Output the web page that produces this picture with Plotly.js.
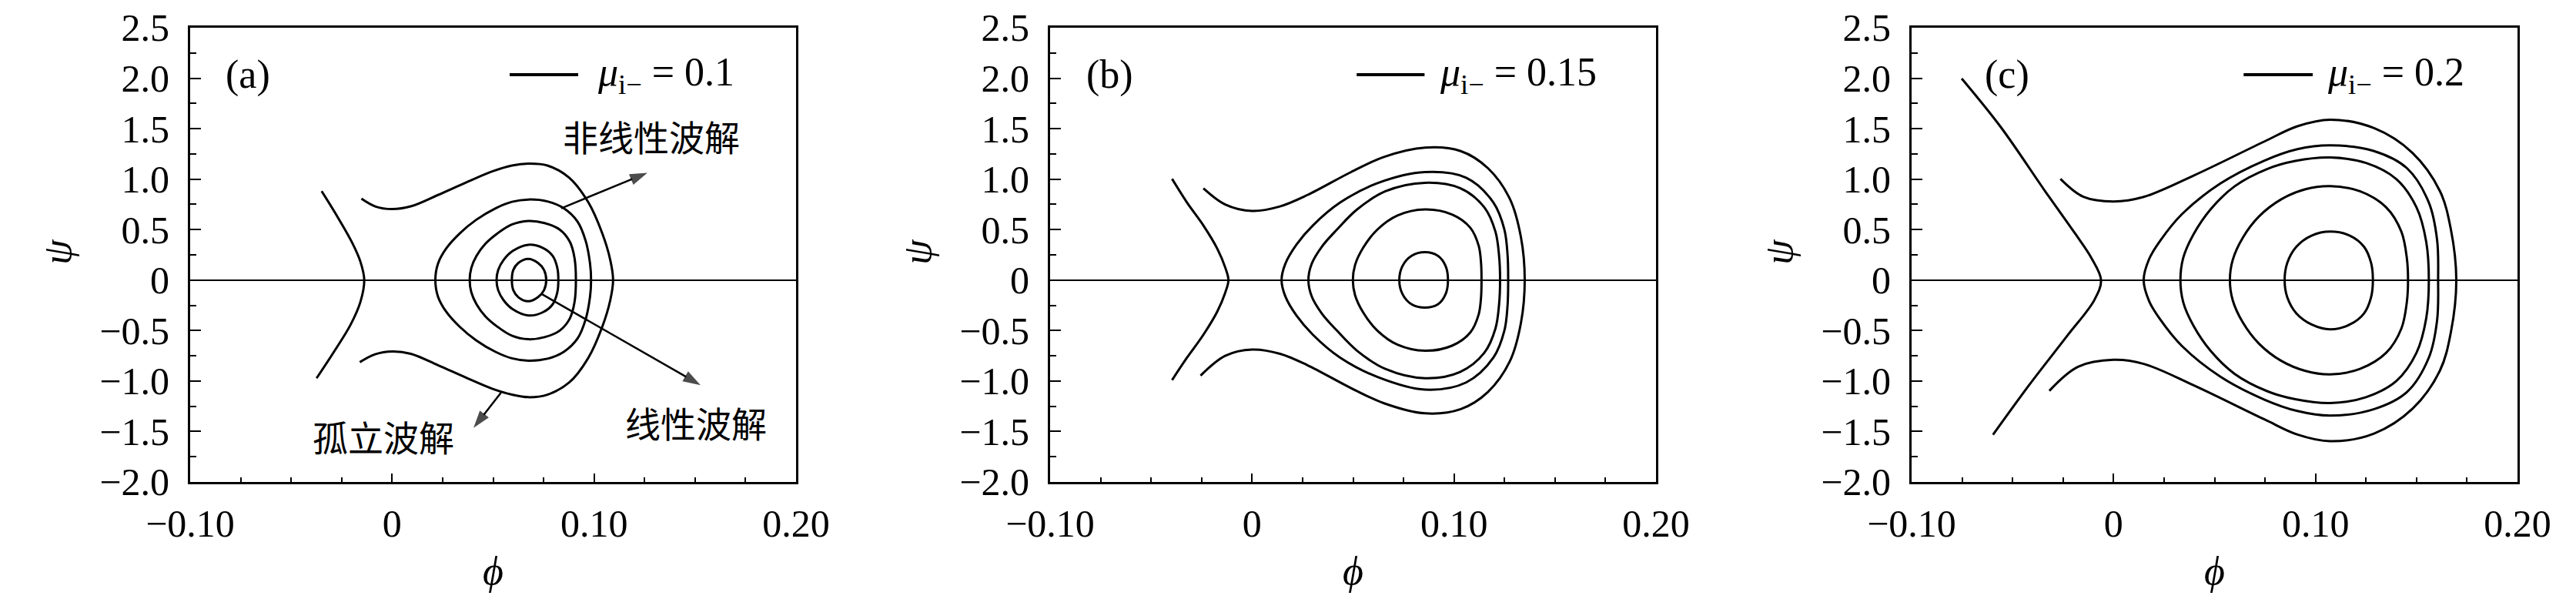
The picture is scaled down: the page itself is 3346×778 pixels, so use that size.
<!DOCTYPE html>
<html>
<head>
<meta charset="utf-8">
<script src="https://cdn.plot.ly/plotly-3.0.1.min.js"></script>
<style>html,body{margin:0;padding:0;background:#fff}#chart{width:3346px;height:778px}</style>
</head>
<body>
<div id="chart"></div>
<script>
// ---------- tick labels ----------
const xTickVals = [-0.1, 0, 0.1, 0.2];
const xTickText = ['\u22120.10', '0', '0.10', '0.20'];
const yTickVals = [2.5, 2.0, 1.5, 1.0, 0.5, 0, -0.5, -1.0, -1.5, -2.0];
const yTickText = ['2.5', '2.0', '1.5', '1.0', '0.5', '0', '\u22120.5', '\u22121.0', '\u22121.5', '\u22122.0'];
const panelLabels = ['(a)', '(b)', '(c)'];
const muValues = ['0.1', '0.15', '0.2'];
const xTitle = '\u03D5';
const yTitle = 'ψ';

// ---------- panel (a), mu = 0.1 ----------
const aLeftX = [-0.0349, -0.0273, -0.0198, -0.0157, -0.0138, -0.0157, -0.0206, -0.0287, -0.0374];
const aLeftY = [0.881, 0.635, 0.371, 0.182, 0, -0.216, -0.443, -0.707, -0.972];
const aOuterX = [-0.0152, -0.0084, 0, 0.0092, 0.0227, 0.0363, 0.0498, 0.0593, 0.0674, 0.0769, 0.0877, 0.0972, 0.1040, 0.1080, 0.1094,
                 0.1080, 0.1040, 0.0972, 0.0877, 0.0769, 0.0674, 0.0593, 0.0498, 0.0363, 0.0227, 0.0092, 0, -0.0084, -0.0160];
const aOuterY = [0.806, 0.73, 0.703, 0.73, 0.843, 0.964, 1.078, 1.135, 1.154, 1.135, 1.014, 0.768, 0.465, 0.2, 0,
                 -0.2, -0.465, -0.768, -1.014, -1.135, -1.16, -1.135, -1.078, -0.964, -0.843, -0.73, -0.707, -0.735, -0.813];
const aC1X = [0.0674, 0.0769, 0.0850, 0.0918, 0.0958, 0.0980, 0.0985, 0.0980, 0.0958, 0.0918, 0.0850, 0.0769, 0.0674, 0.0593, 0.0512, 0.0417, 0.0336, 0.0268, 0.0227, 0.0214, 0.0227, 0.0268, 0.0336, 0.0417, 0.0512, 0.0593, 0.0674];
const aC1Y = [0.798, 0.779, 0.711, 0.579, 0.390, 0.163, 0, -0.163, -0.390, -0.579, -0.711, -0.779, -0.798, -0.775, -0.711, -0.598, -0.465, -0.314, -0.163, 0, 0.163, 0.314, 0.465, 0.598, 0.711, 0.775, 0.798];
const aC2X = [0.0674, 0.0755, 0.0830, 0.0880, 0.0903, 0.0910, 0.0903, 0.0880, 0.0830, 0.0755, 0.0674, 0.0592, 0.0520, 0.0462, 0.0418, 0.0392, 0.0384, 0.0392, 0.0418, 0.0462, 0.0520, 0.0592, 0.0674];
const aC2Y = [0.586, 0.565, 0.50, 0.38, 0.22, 0, -0.22, -0.38, -0.50, -0.565, -0.586, -0.55, -0.46, -0.36, -0.24, -0.12, 0, 0.12, 0.24, 0.36, 0.46, 0.55, 0.586];
const aC3X = [0.0674, 0.0745, 0.0795, 0.0818, 0.0823, 0.0818, 0.0795, 0.0745, 0.0674, 0.0598, 0.0552, 0.0525, 0.0517, 0.0525, 0.0552, 0.0598, 0.0674];
const aC3Y = [0.35, 0.32, 0.24, 0.12, 0, -0.12, -0.24, -0.32, -0.35, -0.29, -0.20, -0.10, 0, 0.10, 0.20, 0.29, 0.35];
const aC4X = [0.0674, 0.0722, 0.0752, 0.0763, 0.0752, 0.0722, 0.0674, 0.0625, 0.0600, 0.0593, 0.0600, 0.0625, 0.0674];
const aC4Y = [0.21, 0.17, 0.10, 0, -0.10, -0.17, -0.21, -0.17, -0.10, 0, 0.10, 0.17, 0.21];

// ---------- panel (b), mu = 0.15 ----------
const bLeftX = [-0.0396, -0.0322, -0.0241, -0.0173, -0.0133, -0.0117, -0.0133, -0.0173, -0.0241, -0.0322, -0.0396];
const bLeftY = [1.002, 0.768, 0.541, 0.314, 0.125, 0, -0.125, -0.314, -0.541, -0.768, -0.99];
const bOuterX = [-0.0241, -0.0133, 0, 0.0138, 0.0274, 0.0490, 0.0653, 0.0856, 0.1033, 0.1168, 0.1276, 0.1331, 0.1350,
                 0.1331, 0.1276, 0.1168, 0.1033, 0.0856, 0.0653, 0.0490, 0.0274, 0.0138, 0, -0.0133, -0.0255];
const bOuterY = [0.908, 0.749, 0.685, 0.73, 0.843, 1.07, 1.22, 1.312, 1.278, 1.108, 0.806, 0.427, 0,
                 -0.427, -0.806, -1.108, -1.278, -1.32, -1.22, -1.07, -0.843, -0.73, -0.688, -0.75, -0.946];
const bC1X = [0.0856, 0.1060, 0.1195, 0.1249, 0.1265, 0.1268, 0.1265, 0.1249, 0.1195, 0.1060, 0.0856, 0.0626, 0.0436, 0.0301, 0.0220, 0.0165, 0.0146, 0.0165, 0.0220, 0.0301, 0.0436, 0.0626, 0.0856];
const bC1Y = [1.07, 1.014, 0.768, 0.503, 0.25, 0, -0.25, -0.503, -0.768, -1.014, -1.085, -0.964, -0.768, -0.541, -0.352, -0.163, 0, 0.163, 0.352, 0.541, 0.768, 0.964, 1.07];
const bC2X = [0.0856, 0.1030, 0.1150, 0.1205, 0.1223, 0.1228, 0.1223, 0.1205, 0.1150, 0.1030, 0.0856, 0.0660, 0.0520, 0.0420, 0.0345, 0.0295, 0.0279, 0.0295, 0.0345, 0.0420, 0.0520, 0.0660, 0.0856];
const bC2Y = [0.964, 0.91, 0.72, 0.48, 0.24, 0, -0.24, -0.48, -0.72, -0.91, -0.972, -0.88, -0.70, -0.50, -0.33, -0.16, 0, 0.16, 0.33, 0.50, 0.70, 0.88, 0.964];
const bC3X = [0.0856, 0.0990, 0.1080, 0.1122, 0.1134, 0.1136, 0.1134, 0.1122, 0.1080, 0.0990, 0.0856, 0.0720, 0.0620, 0.0550, 0.0510, 0.0499, 0.0510, 0.0550, 0.0620, 0.0720, 0.0856];
const bC3Y = [0.70, 0.65, 0.52, 0.34, 0.16, 0, -0.16, -0.34, -0.52, -0.65, -0.70, -0.64, -0.50, -0.32, -0.15, 0, 0.15, 0.32, 0.50, 0.64, 0.70];
const bC4X = [0.0856, 0.0920, 0.0958, 0.0970, 0.0958, 0.0920, 0.0856, 0.0790, 0.0745, 0.0729, 0.0745, 0.0790, 0.0856];
const bC4Y = [0.276, 0.24, 0.14, 0, -0.14, -0.24, -0.272, -0.24, -0.14, 0, 0.14, 0.24, 0.276];

// ---------- panel (c), mu = 0.2 ----------
const cLeftX = [-0.0752, -0.0560, -0.0339, -0.0190, -0.0110, -0.0062, -0.0095, -0.0231, -0.0421, -0.0597];
const cLeftY = [1.997, 1.52, 0.881, 0.46, 0.22, 0, -0.197, -0.556, -1.048, -1.532];
const cOuterX = [-0.0263, -0.0149, 0, 0.0149, 0.0394, 0.0747, 0.0910, 0.1073, 0.1290, 0.1480, 0.1616, 0.1670, 0.1697,
                 0.1670, 0.1616, 0.1480, 0.1290, 0.1073, 0.0910, 0.0747, 0.0394, 0.0149, 0, -0.0176, -0.0318];
const cOuterY = [1.002, 0.824, 0.779, 0.824, 1.033, 1.373, 1.524, 1.589, 1.505, 1.26, 0.881, 0.503, 0,
                 -0.518, -0.896, -1.275, -1.52, -1.596, -1.53, -1.38, -1.04, -0.83, -0.79, -0.859, -1.097];
const cC1X = [0.1073, 0.1290, 0.1453, 0.1561, 0.1602, 0.1607, 0.1602, 0.1561, 0.1453, 0.1290, 0.1073, 0.0910, 0.0747, 0.0529, 0.0339, 0.0231, 0.0176, 0.0149, 0.0176, 0.0231, 0.0339, 0.0529, 0.0747, 0.0910, 0.1073];
const cC1Y = [1.335, 1.278, 1.108, 0.768, 0.397, 0, -0.397, -0.768, -1.108, -1.278, -1.343, -1.297, -1.184, -0.957, -0.654, -0.39, -0.208, 0, 0.208, 0.39, 0.654, 0.957, 1.184, 1.297, 1.335];
const cC2X = [0.1073, 0.1250, 0.1400, 0.1500, 0.1548, 0.1561, 0.1548, 0.1500, 0.1400, 0.1250, 0.1073, 0.0900, 0.0760, 0.0600, 0.0480, 0.0395, 0.0345, 0.0331, 0.0345, 0.0395, 0.0480, 0.0600, 0.0760, 0.0900, 0.1073];
const cC2Y = [1.214, 1.16, 1.00, 0.72, 0.38, 0, -0.38, -0.72, -1.00, -1.16, -1.218, -1.18, -1.10, -0.93, -0.70, -0.45, -0.22, 0, 0.22, 0.45, 0.70, 0.93, 1.10, 1.18, 1.214];
const cC3X = [0.1073, 0.1220, 0.1350, 0.1425, 0.1452, 0.1458, 0.1452, 0.1425, 0.1350, 0.1220, 0.1073, 0.0950, 0.0830, 0.0720, 0.0640, 0.0590, 0.0576, 0.0590, 0.0640, 0.0720, 0.0830, 0.0950, 0.1073];
const cC3Y = [0.93, 0.88, 0.72, 0.48, 0.22, 0, -0.22, -0.48, -0.72, -0.88, -0.934, -0.90, -0.80, -0.63, -0.42, -0.20, 0, 0.20, 0.42, 0.63, 0.80, 0.90, 0.93];
const cC4X = [0.1073, 0.1170, 0.1240, 0.1275, 0.1284, 0.1275, 0.1240, 0.1170, 0.1073, 0.0980, 0.0905, 0.0860, 0.0847, 0.0860, 0.0905, 0.0980, 0.1073];
const cC4Y = [0.48, 0.44, 0.33, 0.17, 0, -0.17, -0.33, -0.44, -0.488, -0.44, -0.33, -0.17, 0, 0.17, 0.33, 0.44, 0.48];

// ---------- labels and arrows in panel (a) ----------
const cnLabels = ['非线性波解', '线性波解', '孤立波解'];
const cnLabelX = [0.1283, 0.1505, -0.0043];
const cnLabelY = [1.43, -1.407, -1.539];
const arrowTailX = [0.0837, 0.0742, 0.0539];
const arrowTailY = [0.711, -0.14, -1.116];
const arrowHeadX = [0.1264, 0.1527, 0.0403];
const arrowHeadY = [1.063, -1.04, -1.464];

// ---------- build ----------
const serif = 'Liberation Serif, Times New Roman, serif';
const panels = [
  {xa: 'x', ya: 'y', curves: [[aLeftX, aLeftY], [aOuterX, aOuterY], [aC1X, aC1Y], [aC2X, aC2Y], [aC3X, aC3Y], [aC4X, aC4Y]]},
  {xa: 'x2', ya: 'y2', curves: [[bLeftX, bLeftY], [bOuterX, bOuterY], [bC1X, bC1Y], [bC2X, bC2Y], [bC3X, bC3Y], [bC4X, bC4Y]]},
  {xa: 'x3', ya: 'y3', curves: [[cLeftX, cLeftY], [cOuterX, cOuterY], [cC1X, cC1Y], [cC2X, cC2Y], [cC3X, cC3Y], [cC4X, cC4Y]]}
];
const traces = [];
panels.forEach((p) => {
  p.curves.forEach((c) => {
    traces.push({
      x: c[0], y: c[1], xaxis: p.xa, yaxis: p.ya, type: 'scatter', mode: 'lines',
      line: {color: '#000', width: 3, shape: 'spline', smoothing: 1},
      showlegend: false, hoverinfo: 'skip'
    });
  });
});
// arrows: line with an arrow-shaped marker at the head
for (let k = 0; k < 3; k++) {
  traces.push({
    x: [arrowTailX[k], arrowHeadX[k]], y: [arrowTailY[k], arrowHeadY[k]],
    xaxis: 'x', yaxis: 'y', type: 'scatter', mode: 'lines+markers',
    line: {color: '#000', width: 2.5},
    marker: {symbol: 'arrow', angleref: 'previous', size: [0, 24], color: '#000', line: {width: 0}},
    showlegend: false, hoverinfo: 'skip'
  });
}

const xDomains = [[0.07382, 0.30903], [0.40765, 0.64286], [0.74208, 0.97729]];
const yDomain = [0.19537, 0.95373];

function xAxis(dom, anchor) {
  return {
    domain: dom, anchor: anchor, range: [-0.1, 0.2],
    tickmode: 'array', tickvals: xTickVals, ticktext: xTickText,
    ticks: 'inside', ticklen: 11, tickwidth: 2, tickcolor: '#000',
    minor: {tickmode: 'linear', tick0: 0, dtick: 0.025, ticks: 'inside', ticklen: 6, tickwidth: 2, tickcolor: '#000'},
    showline: true, mirror: true, linecolor: '#000', linewidth: 3,
    showgrid: false, zeroline: false,
    tickfont: {family: serif, size: 50, color: '#000'},
    ticklabelstandoff: 8,
    title: {text: '<i>' + xTitle + '</i>', font: {family: serif, size: 52, color: '#000'}, standoff: 16},
    fixedrange: true
  };
}
function yAxis(anchor) {
  return {
    domain: yDomain, anchor: anchor, range: [-2.0, 2.5],
    tickmode: 'array', tickvals: yTickVals, ticktext: yTickText,
    ticks: 'inside', ticklen: 14, tickwidth: 2, tickcolor: '#000',
    minor: {tickmode: 'linear', tick0: 0, dtick: 0.25, ticks: 'inside', ticklen: 8, tickwidth: 2, tickcolor: '#000'},
    showline: true, mirror: true, linecolor: '#000', linewidth: 3,
    showgrid: false, zeroline: true, zerolinecolor: '#000', zerolinewidth: 1.6,
    tickfont: {family: serif, size: 50, color: '#000'},
    ticklabelstandoff: 14,
    fixedrange: true
  };
}

const annotations = [];
const shapes = [];
const legendLineX = [[0.5273, 0.6404], [0.506, 0.618], [0.548, 0.662]];
const legendTextX = [0.6696, 0.640, 0.684];
const panelLabelX = [0.095, 0.099, 0.157];
const legendY = 0.8966;
['x', 'x2', 'x3'].forEach((xa, i) => {
  const ya = ['y', 'y2', 'y3'][i];
  shapes.push({type: 'line', xref: xa + ' domain', yref: ya + ' domain',
    x0: legendLineX[i][0], x1: legendLineX[i][1], y0: legendY, y1: legendY,
    line: {color: '#000', width: 4}});
  annotations.push({xref: xa + ' domain', yref: ya + ' domain', x: legendTextX[i], y: legendY,
    xanchor: 'left', yanchor: 'middle', showarrow: false,
    text: '<i>μ</i><sub>i\u2212</sub> = ' + muValues[i],
    font: {family: serif, size: 52, color: '#000'}});
  annotations.push({xref: xa + ' domain', yref: ya + ' domain', x: panelLabelX[i], y: legendY,
    xanchor: 'center', yanchor: 'middle', showarrow: false, text: panelLabels[i],
    font: {family: serif, size: 52, color: '#000'}});
  // y-axis title
  annotations.push({xref: xa + ' domain', yref: ya + ' domain', x: -0.2186, y: 0.507,
    xanchor: 'center', yanchor: 'middle', showarrow: false, textangle: -90,
    text: '<i>' + yTitle + '</i>', font: {family: serif, size: 52, color: '#000'}});
});
for (let k = 0; k < 3; k++) {
  annotations.push({xref: 'x', yref: 'y', x: cnLabelX[k], y: cnLabelY[k],
    xanchor: 'center', yanchor: 'middle', showarrow: false, text: cnLabels[k],
    font: {family: 'Noto Sans CJK SC, sans-serif', size: 46, color: '#000'}});
}

const layout = {
  width: 3346, height: 778,
  margin: {l: 0, r: 0, t: 0, b: 0},
  paper_bgcolor: '#fff', plot_bgcolor: '#fff',
  showlegend: false,
  xaxis: xAxis(xDomains[0], 'y'),
  yaxis: yAxis('x'),
  xaxis2: xAxis(xDomains[1], 'y2'),
  yaxis2: yAxis('x2'),
  xaxis3: xAxis(xDomains[2], 'y3'),
  yaxis3: yAxis('x3'),
  annotations: annotations,
  shapes: shapes
};

Plotly.newPlot('chart', traces, layout, {staticPlot: true, displayModeBar: false});
</script>
</body>
</html>
